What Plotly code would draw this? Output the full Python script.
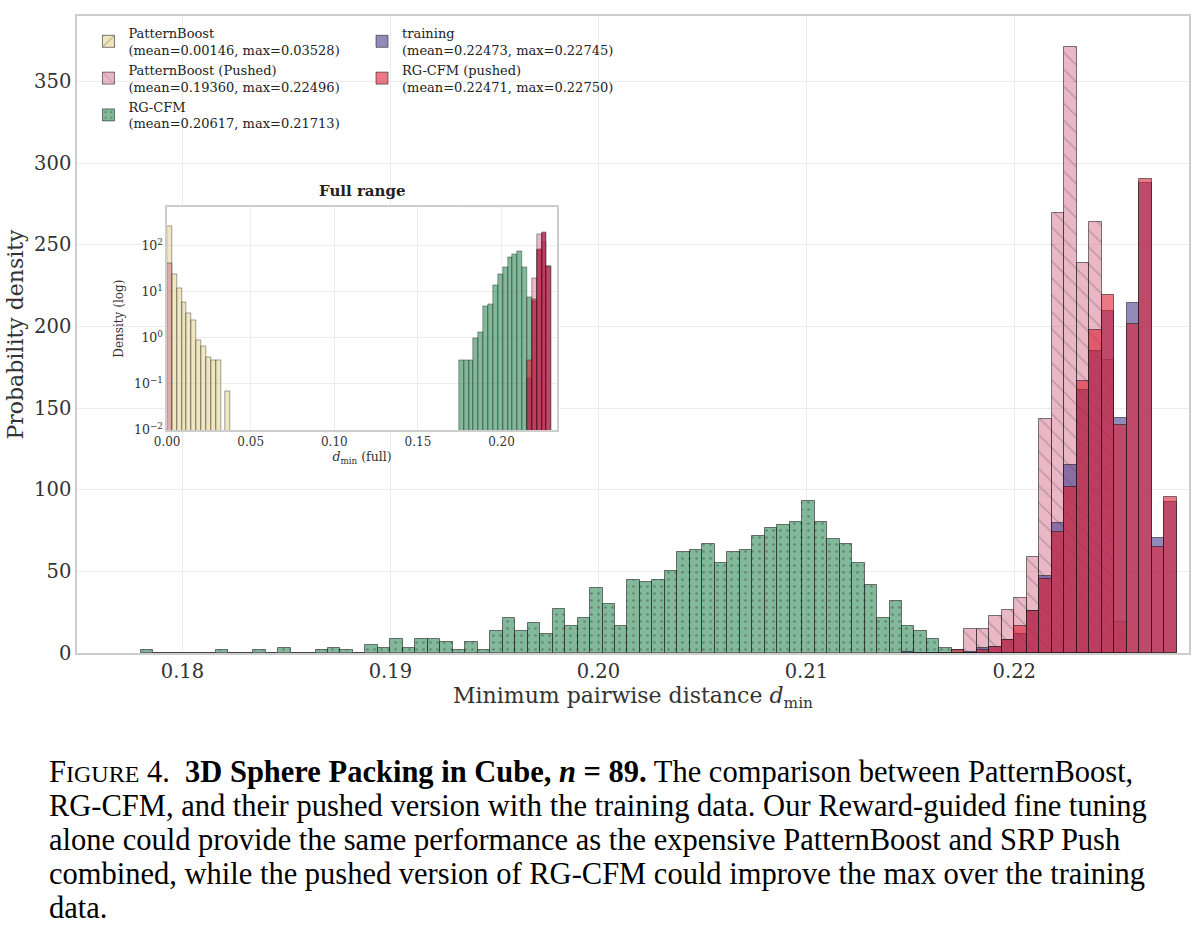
import plotly.graph_objects as go

# ---------------- data ----------------
# Main panel histogram: common bins, density values per bin
main_bin_start = 0.178
main_bin_width = 0.0006

rgcfm_first_bin = 0
rgcfm_density = [1.7, 0, 0, 0, 0, 0, 1.7, 0, 0, 1.7, 0, 3.3, 0, 0, 1.7, 3.3, 1.7, 0, 5.0, 3.3,
                 8.3, 3.3, 8.3, 8.3, 6.7, 1.7, 6.7, 1.7, 13.3, 21.7, 13.3, 18.3, 11.7, 26.7, 16.7, 21.7,
                 40.0, 30.0, 16.7, 45.0, 43.3, 45.0, 50.0, 61.7, 63.3, 66.7, 55.0, 61.7, 63.3, 71.7,
                 76.7, 78.3, 80.0, 93.3, 80.0, 70.0, 66.7, 55.0, 41.7, 21.7, 31.7, 16.7, 13.3, 8.3,
                 3.3, 1.7]

pb_pushed_first_bin = 66
pb_pushed_density = [14.9, 14.9, 22.4, 26.1, 33.8, 58.6, 143.2, 269.4, 370.8, 238.8, 263.7,
                     179.4, 18.9]

training_first_bin = 61
training_density = [0.6, 0, 0, 0, 0, 0.6, 3.1, 3.7, 7.8, 11.8, 25.5, 47.0, 79.6, 115.3, 160.9,
                    184.8, 209.3, 143.6, 214.4, 287.7, 70.2, 92.7]

rgcfm_pushed_first_bin = 65
rgcfm_pushed_density = [1.6, 0, 2.1, 3.7, 7.8, 16.7, 25.5, 45.4, 73.9, 101.8, 166.4, 197.5,
                        219.1, 139.7, 201.2, 290.4, 64.8, 95.7]

# Inset ("Full range") histogram, log density
inset_bin_width = 0.00291
pb_full_bins = [0, 1, 2, 3, 4, 5, 6, 7, 8, 9, 10, 12]
pb_full_density = [272, 24.6, 11.8, 5.86, 3.49, 2.42, 0.905, 0.659, 0.386, 0.333, 0.333, 0.068]
pb_pushed_full_bins = [0, 75, 76, 77]
pb_pushed_full_density = [42, 19.8, 179.6, 120]
rgcfm_full_bins = [60, 61, 62, 63, 64, 65, 66, 67, 68, 69, 70, 71, 72, 73, 74]
rgcfm_full_density = [0.33, 0.33, 0.33, 0.98, 1.33, 5.0, 5.5, 13.7, 24.2, 34.4, 56.8, 67, 75.3,
                      33.8, 7.7]
training_full_bins = [74, 75, 76, 77, 78]
training_full_density = [0.133, 6.2, 81, 190, 36]
rgcfm_pushed_full_bins = [74, 75, 76, 77, 78]
rgcfm_pushed_full_density = [0.33, 7.0, 84, 195, 36.7]
zoom_span = [0.1749, 0.2318]

labels = [
    "PatternBoost<br>(mean=0.00146, max=0.03528)",
    "PatternBoost (Pushed)<br>(mean=0.19360, max=0.22496)",
    "RG-CFM<br>(mean=0.20617, max=0.21713)",
    "training<br>(mean=0.22473, max=0.22745)",
    "RG-CFM (pushed)<br>(mean=0.22471, max=0.22750)",
]

x_ticks_main = [0.18, 0.19, 0.20, 0.21, 0.22]
y_ticks_main = [0, 50, 100, 150, 200, 250, 300, 350]
x_ticks_inset = [0.00, 0.05, 0.10, 0.15, 0.20]
y_ticks_inset = [0.01, 0.1, 1, 10, 100]
y_ticktext_inset = ["10<sup>−2</sup>", "10<sup>−1</sup>", "10<sup>0</sup>", "10<sup>1</sup>", "10<sup>2</sup>"]

caption_lines = [
    "F<span style='font-size:24px'>IGURE</span> 4.  <b>3D Sphere Packing in Cube, <i>n</i> = 89.</b> The comparison between PatternBoost,",
    "RG-CFM, and their pushed version with the training data. Our Reward-guided fine tuning",
    "alone could provide the same performance as the expensive PatternBoost and SRP Push",
    "combined, while the pushed version of RG-CFM could improve the max over the training",
    "data.",
]

# ---------------- styles ----------------
C_PB = "rgba(225,205,130,0.5)"
C_PBP = "rgba(212,112,142,0.5)"
C_RG = "rgba(46,139,87,0.6)"
C_TR = "rgba(72,61,139,0.6)"
C_RGP = "rgba(222,30,50,0.6)"
EDGE = "rgba(20,20,20,0.55)"
FONT = "DejaVu Serif"

W, H = 1200, 941
ML, MR, MT, MB = 77, 9, 16, 288


def px_x(px):
    return (px - ML) / (W - ML - MR)


def px_y(py):
    return (H - MB - py) / (H - MT - MB)


def centers(first, n, start, width):
    return [start + (first + i + 0.5) * width for i in range(n)]


def centers_idx(idx, start, width):
    return [start + (i + 0.5) * width for i in idx]


fig = go.Figure()

# ---- main panel (PatternBoost lies entirely left of the zoomed x-range) ----
fig.add_trace(go.Bar(
    x=centers_idx(pb_full_bins, 0.0, inset_bin_width), y=pb_full_density, width=inset_bin_width,
    name=labels[0], legend="legend",
    marker=dict(color=C_PB, line=dict(color=EDGE, width=1),
                pattern=dict(shape="/", fgcolor="rgba(40,40,40,0.7)", size=10, solidity=0.12, fillmode="overlay")),
))
fig.add_trace(go.Bar(
    x=centers(pb_pushed_first_bin, len(pb_pushed_density), main_bin_start, main_bin_width),
    y=pb_pushed_density, width=main_bin_width, name=labels[1], legend="legend",
    marker=dict(color=C_PBP, line=dict(color=EDGE, width=1),
                pattern=dict(shape="\\", fgcolor="rgba(40,40,40,0.6)", size=12, solidity=0.1, fillmode="overlay")),
))
fig.add_trace(go.Bar(
    x=centers(rgcfm_first_bin, len(rgcfm_density), main_bin_start, main_bin_width),
    y=rgcfm_density, width=main_bin_width, name=labels[2], legend="legend",
    marker=dict(color=C_RG, line=dict(color=EDGE, width=1),
                pattern=dict(shape=".", fgcolor="rgba(40,40,40,0.7)", size=7, solidity=0.12, fillmode="overlay")),
))
fig.add_trace(go.Bar(
    x=centers(training_first_bin, len(training_density), main_bin_start, main_bin_width),
    y=training_density, width=main_bin_width, name=labels[3], legend="legend2",
    marker=dict(color=C_TR, line=dict(color=EDGE, width=1)),
))
fig.add_trace(go.Bar(
    x=centers(rgcfm_pushed_first_bin, len(rgcfm_pushed_density), main_bin_start, main_bin_width),
    y=rgcfm_pushed_density, width=main_bin_width, name=labels[4], legend="legend2",
    marker=dict(color=C_RGP, line=dict(color=EDGE, width=1)),
))

# ---- inset panel ----
inset_series = [
    (pb_full_bins, pb_full_density, C_PB),
    (pb_pushed_full_bins, pb_pushed_full_density, C_PBP),
    (rgcfm_full_bins, rgcfm_full_density, C_RG),
    (training_full_bins, training_full_density, C_TR),
    (rgcfm_pushed_full_bins, rgcfm_pushed_full_density, C_RGP),
]
for bins, dens, col in inset_series:
    fig.add_trace(go.Bar(
        x=centers_idx(bins, 0.0, inset_bin_width), y=dens, width=inset_bin_width,
        xaxis="x2", yaxis="y2", showlegend=False,
        marker=dict(color=col, line=dict(color=EDGE, width=0.7)),
    ))

axis_common = dict(showgrid=True, gridcolor="#ececec", gridwidth=1, showline=True, mirror=True,
                   linecolor="#cdcdcd", linewidth=1.5, ticks="", zeroline=False)

inset_x_dom = [px_x(167.3), px_x(557.7)]
inset_y_dom = [px_y(430), px_y(207.3)]

fig.update_layout(
    width=W, height=H,
    margin=dict(l=ML, r=MR, t=MT, b=MB),
    paper_bgcolor="white", plot_bgcolor="white",
    font=dict(family=FONT, color="#262626"),
    barmode="overlay", bargap=0,
    xaxis=dict(domain=[0, 1], range=[0.17493, 0.2284], tickvals=x_ticks_main,
               ticktext=[f"{v:.2f}" for v in x_ticks_main], tickfont=dict(size=19.5, color="#333"),
               title=dict(text="Minimum pairwise distance <i>d</i><sub>min</sub>",
                          font=dict(size=22, color="#333"), standoff=4),
               **axis_common),
    yaxis=dict(domain=[0, 1], range=[0, 390], tickvals=y_ticks_main,
               tickfont=dict(size=19.5, color="#333"),
               title=dict(text="Probability density", font=dict(size=22, color="#333"), standoff=4),
               **axis_common),
    xaxis2=dict(domain=inset_x_dom, anchor="y2", range=[0, 0.2331], tickvals=x_ticks_inset,
                ticktext=[f"{v:.2f}" for v in x_ticks_inset], tickfont=dict(size=12, color="#333"),
                title=dict(text="<i>d</i><sub>min</sub> (full)", font=dict(size=12.5, color="#333"), standoff=4),
                **axis_common),
    yaxis2=dict(domain=inset_y_dom, anchor="x2", type="log", range=[-2, 2.84], tickvals=y_ticks_inset,
                ticktext=y_ticktext_inset, tickfont=dict(size=12.5, color="#333"),
                title=dict(text="Density (log)", font=dict(size=12, color="#333"), standoff=8),
                **axis_common),
    legend=dict(x=0.0103, y=0.997, xanchor="left", yanchor="top", bgcolor="rgba(0,0,0,0)",
                font=dict(size=13, family=FONT, color="#222"), tracegroupgap=0),
    legend2=dict(x=0.2563, y=0.997, xanchor="left", yanchor="top", bgcolor="rgba(0,0,0,0)",
                 font=dict(size=13, family=FONT, color="#222"), tracegroupgap=0),
    shapes=[
        dict(type="rect", xref="x2 domain", yref="y2 domain", x0=0, x1=1, y0=0, y1=1,
             fillcolor="white", line=dict(width=0), layer="below"),
        dict(type="rect", xref="x2", yref="y2 domain", x0=zoom_span[0], x1=zoom_span[1], y0=0, y1=1,
             fillcolor="#ebebeb", line=dict(width=0), layer="below"),
    ],
)

annotations = [
    dict(text="<b>Full range</b>", xref="paper", yref="paper", x=(inset_x_dom[0] + inset_x_dom[1]) / 2,
         y=px_y(191), xanchor="center", yanchor="middle", showarrow=False,
         font=dict(size=15, family=FONT, color="#222")),
]
cap_y = [772, 806, 840, 874, 908]
for txt, yy in zip(caption_lines, cap_y):
    annotations.append(dict(text=txt, xref="paper", yref="paper", x=px_x(47), y=px_y(yy),
                            xanchor="left", yanchor="middle", showarrow=False,
                            font=dict(size=30.5, family="Liberation Serif", color="black")))
fig.update_layout(annotations=annotations)

fig.write_html("out.html", config={"displayModeBar": False},
               post_script="document.body.style.margin='0px';")
